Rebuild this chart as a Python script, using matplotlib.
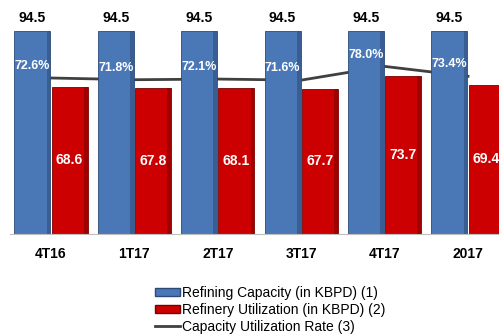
import numpy as np
import matplotlib
matplotlib.use('Agg')
import matplotlib.pyplot as plt
from matplotlib.patches import Patch
from matplotlib.lines import Line2D

plt.rcParams['font.family'] = ['Liberation Sans', 'DejaVu Sans']

# --- data ---
categories = ['4T16', '1T17', '2T17', '3T17', '4T17', '2017']
capacity = [94.5, 94.5, 94.5, 94.5, 94.5, 94.5]
utilization = [68.6, 67.8, 68.1, 67.7, 73.7, 69.4]
rate = [72.6, 71.8, 72.1, 71.6, 78.0, 73.4]

blue = '#4a78b6'
blue_dark = '#2b4a78'
red = '#cc0000'
red_dark = '#7a0000'

fig = plt.figure(figsize=(4.99, 3.35), dpi=100)
W, H = 499, 335
ax = fig.add_axes([10 / W, 1 - 234 / H, 489 / W, 234 / H])

x = np.arange(len(categories))
w = 0.43
gap = 0.008
xb = x - w / 2 - gap
xr = x + w / 2 + gap

# line sits behind the bars
ax.plot(x, rate, color='#404040', lw=2, zorder=1)
ax.bar(xb, capacity, w, color=blue, edgecolor=blue_dark, lw=0.6, zorder=2)
ax.bar(xr, utilization, w, color=red, edgecolor=red_dark, lw=0.6, zorder=2)
# darker right side, a bit of the bevel look
sh = 0.045
ax.bar(xb + w / 2 - sh / 2, capacity, sh, color=blue_dark, lw=0, alpha=0.55, zorder=2.1)
ax.bar(xr + w / 2 - sh / 2, utilization, sh, color=red_dark, lw=0, alpha=0.55, zorder=2.1)

for i in range(len(categories)):
    ax.text(xb[i], capacity[i] + 6, f'{capacity[i]:.1f}', ha='center', va='center',
            fontsize=10, fontweight='bold', color='black')
    ax.text(xb[i], rate[i] + 5.5, f'{rate[i]:.1f}%', ha='center', va='center',
            fontsize=9, fontweight='bold', color='white', zorder=3)
    ax.text(xr[i], utilization[i] / 2, f'{utilization[i]:.1f}', ha='center', va='center',
            fontsize=10, fontweight='bold', color='white', zorder=3)

ax.set_xlim((10 - 51) / 83.4, (499 - 51) / 83.4)
ax.set_ylim(0, 108.9)
ax.set_xticks(x)
ax.set_xticklabels(categories, fontsize=10, fontweight='bold')
ax.tick_params(axis='x', length=0, pad=9)
ax.set_yticks([])
for s in ['top', 'right', 'left']:
    ax.spines[s].set_visible(False)
ax.spines['bottom'].set_color('#bfbfbf')

handles = [Patch(facecolor=blue, edgecolor=blue_dark),
           Patch(facecolor=red, edgecolor=red_dark),
           Line2D([0], [0], color='#404040', lw=2)]
labels = ['Refining Capacity (in KBPD) (1)',
          'Refinery Utilization (in KBPD) (2)',
          'Capacity Utilization Rate (3)']
fig.legend(handles, labels, loc='upper left', bbox_to_anchor=(155 / W, 1 - 286 / H),
           frameon=False, fontsize=10, handlelength=1.8, handleheight=0.45,
           handletextpad=0.15, labelspacing=0.2, borderpad=0, borderaxespad=0)

fig.savefig('out.png', dpi=100)
